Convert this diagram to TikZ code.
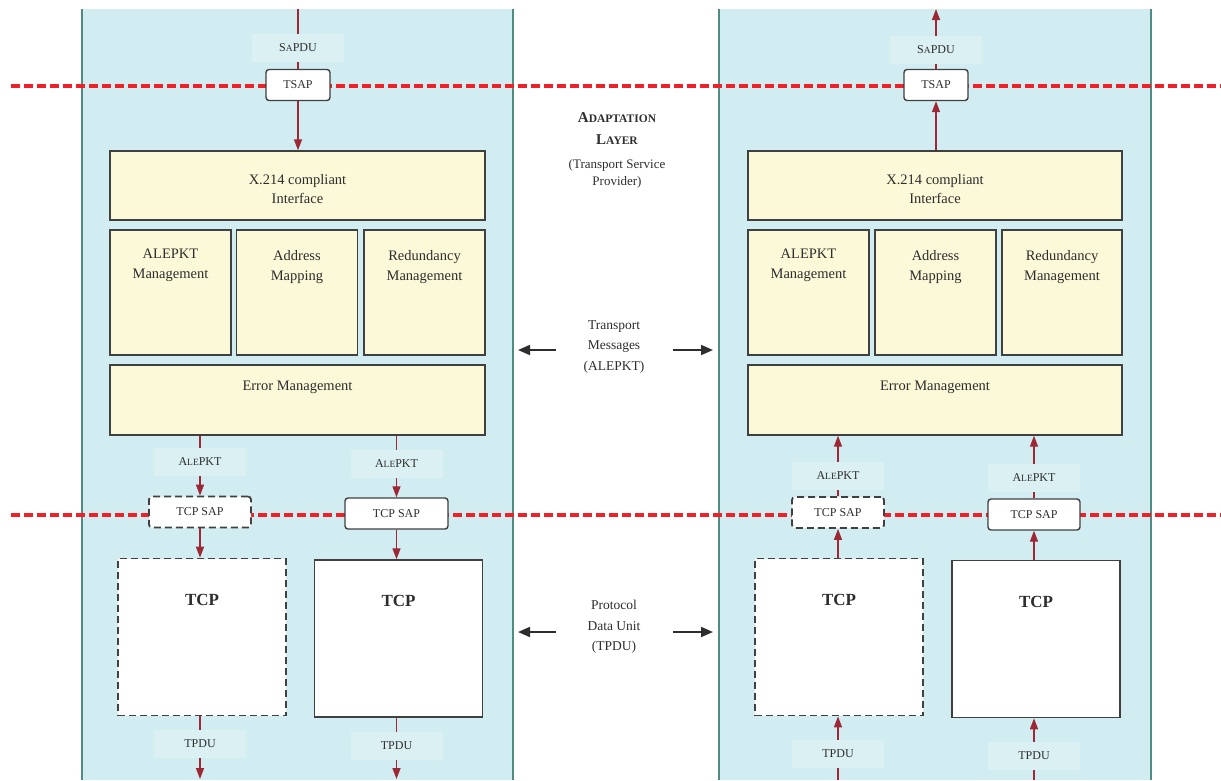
\documentclass[tikz,border=0pt]{standalone}
\usepackage{fontspec}
\setmainfont{Liberation Serif}
\usetikzlibrary{arrows.meta,positioning}

\definecolor{panelbg}{RGB}{210,237,241}
\definecolor{labelbg}{RGB}{218,240,243}
\definecolor{panelrule}{RGB}{80,140,132}
\definecolor{boxfill}{RGB}{252,249,216}
\definecolor{boxrule}{RGB}{64,64,64}
\definecolor{sapred}{RGB}{238,32,40}
\definecolor{flowred}{RGB}{155,40,52}
\definecolor{inkgrey}{RGB}{45,45,45}

\newcommand{\smcap}[1]{{\fontsize{9.5}{10}\selectfont #1}}

\tikzset{
  panel/.style={fill=panelbg},
  panelside/.style={draw=panelrule, line width=1.6pt},
  sapline/.style={draw=sapred, line width=3.2pt, dash pattern=on 9pt off 4pt},
  ybox/.style={draw=boxrule, fill=boxfill, line width=1.4pt, inner sep=0pt},
  ytext/.style={align=center, text=inkgrey, font=\fontsize{14.5}{19.5}\selectfont},
  sapbox/.style={draw=boxrule, fill=white, rounded corners=3pt, line width=1.4pt,
    minimum height=31pt, text=inkgrey, font=\fontsize{12}{12}\selectfont},
  tcpbox/.style={draw=boxrule, fill=white, line width=1.5pt, minimum width=168pt, minimum height=157pt},
  dashy/.style={dash pattern=on 7pt off 4pt, line width=1.8pt},
  tcplbl/.style={text=inkgrey, font=\fontsize{17}{17}\selectfont\bfseries},
  pdulbl/.style={fill=labelbg, minimum width=92pt, minimum height=28pt, inner sep=0pt,
    text=inkgrey, font=\fontsize{12}{12}\selectfont},
  flow/.style={draw=flowred, line width=1.4pt},
  flowtip/.style={flow, -{Triangle[length=11pt,width=8pt]}},
  midtext/.style={align=center, text=inkgrey, font=\fontsize{13.5}{20.5}\selectfont},
  side/.style={draw=inkgrey, line width=1.8pt, -{Triangle[length=12pt,width=10pt]}}
}

\begin{document}
\begin{tikzpicture}[x=1pt,y=-1pt]
\useasboundingbox (0,0) rectangle (1221,780);

\fill[panel] (82,9) rectangle (513,780);
\fill[panel] (719,9) rectangle (1151,780);
\draw[panelside] (82,9) -- (82,780);
\draw[panelside] (513,9) -- (513,780);
\draw[panelside] (719,9) -- (719,780);
\draw[panelside] (1151,9) -- (1151,780);

\draw[sapline] (11,86) -- (1221,86);
\draw[sapline] (11,515) -- (1221,515);

\node[ybox, minimum width=375pt, minimum height=69pt] (ifA) at (297.5,185.5) {};
\node[ytext] at (297.5,189) {X.214 compliant\\Interface};
\node[ybox, minimum width=121pt, minimum height=125pt] (pktA) at (170.5,292.5) {};
\node[ybox, minimum width=121pt, minimum height=125pt] (mapA) at (297,292.5) {};
\node[ybox, minimum width=121pt, minimum height=125pt] (redA) at (424.5,292.5) {};
\node[ytext] at (170.5,265.5) {ALEPKT\\Management};
\node[ytext] at (297,267) {Address\\Mapping};
\node[ytext] at (424.5,267) {Redundancy\\Management};
\node[ybox, minimum width=375pt, minimum height=70pt] (errA) at (297.5,400) {};
\node[ytext] at (297.5,387) {Error Management};

\node[ybox, minimum width=374pt, minimum height=69pt] (ifB) at (935,185.5) {};
\node[ytext] at (935,189) {X.214 compliant\\Interface};
\node[ybox, minimum width=121pt, minimum height=125pt] (pktB) at (808.5,292.5) {};
\node[ybox, minimum width=121pt, minimum height=125pt] (mapB) at (935.5,292.5) {};
\node[ybox, minimum width=120pt, minimum height=125pt] (redB) at (1062,292.5) {};
\node[ytext] at (808.5,265.5) {ALEPKT\\Management};
\node[ytext] at (935.5,267) {Address\\Mapping};
\node[ytext] at (1062,267) {Redundancy\\Management};
\node[ybox, minimum width=374pt, minimum height=70pt] (errB) at (935,400) {};
\node[ytext] at (935,387) {Error Management};

\node[sapbox, minimum width=64pt] (tsapA) at (298,85) {TSAP};
\node[sapbox, minimum width=64pt] (tsapB) at (936,85) {TSAP};
\node[sapbox, dashy, minimum width=102pt] (csapA) at (200,512) {TCP SAP};
\node[sapbox, minimum width=103pt] (csapA2) at (396.5,513.5) {TCP SAP};
\node[sapbox, dashy, minimum width=92pt] (csapB) at (838,512.5) {TCP SAP};
\node[sapbox, minimum width=92pt] (csapB2) at (1034,514.5) {TCP SAP};

\node[tcpbox, dashy] (tcpA) at (202,637) {};
\node[tcpbox] (tcpA2) at (398.5,638.5) {};
\node[tcpbox, dashy] (tcpB) at (839,637) {};
\node[tcpbox] (tcpB2) at (1036,639) {};
\node[tcplbl] at ([yshift=-42pt]tcpA.north) {TCP};
\node[tcplbl] at ([yshift=-42pt]tcpA2.north) {TCP};
\node[tcplbl] at ([yshift=-42pt]tcpB.north) {TCP};
\node[tcplbl] at ([yshift=-42pt]tcpB2.north) {TCP};

\node[pdulbl] (sapduA) at (298,48) {S\smcap{A}PDU};
\node[pdulbl] (sapduB) at (936,50) {S\smcap{A}PDU};
\node[pdulbl] (aleA) at (200,462) {A\smcap{LE}PKT};
\node[pdulbl] (aleA2) at (396.5,464) {A\smcap{LE}PKT};
\node[pdulbl] (aleB) at (838,476) {A\smcap{LE}PKT};
\node[pdulbl] (aleB2) at (1034,478) {A\smcap{LE}PKT};
\node[pdulbl] (tpduA) at (200,744) {TPDU};
\node[pdulbl] (tpduA2) at (396.5,746) {TPDU};
\node[pdulbl] (tpduB) at (838,754) {TPDU};
\node[pdulbl] (tpduB2) at (1034,756) {TPDU};

\coordinate (inA) at (298,9);
\coordinate (outB) at (936,9);
\coordinate (downA) at (200,779);
\coordinate (downA2) at (396.5,779);
\coordinate (upB) at (838,780);
\coordinate (upB2) at (1034,780);

\draw[flow] (inA) -- (sapduA.north);
\draw[flow] (sapduA.south) -- (tsapA.north);
\draw[flowtip] (tsapA.south) -- (ifA.north -| tsapA);
\draw[flow] (errA.south -| aleA) -- (aleA.north);
\draw[flow] (errA.south -| aleA2) -- (aleA2.north);
\draw[flowtip] (aleA.south) -- (csapA.north);
\draw[flowtip] (aleA2.south) -- (csapA2.north);
\draw[flowtip] (csapA.south) -- (csapA.south |- tcpA.north);
\draw[flowtip] (csapA2.south) -- (csapA2.south |- tcpA2.north);
\draw[flow] (tcpA.south -| tpduA) -- (tpduA.north);
\draw[flow] (tcpA2.south -| tpduA2) -- (tpduA2.north);
\draw[flowtip] (tpduA.south) -- (downA);
\draw[flowtip] (tpduA2.south) -- (downA2);

\draw[flowtip] (sapduB.north) -- (outB);
\draw[flow] (tsapB.north) -- (sapduB.south);
\draw[flowtip] (ifB.north -| tsapB) -- (tsapB.south);
\draw[flowtip] (aleB.north) -- (errB.south -| aleB);
\draw[flowtip] (aleB2.north) -- (errB.south -| aleB2);
\draw[flow] (csapB.north) -- (aleB.south);
\draw[flow] (csapB2.north) -- (aleB2.south);
\draw[flowtip] (csapB.south |- tcpB.north) -- (csapB.south);
\draw[flowtip] (csapB2.south |- tcpB2.north) -- (csapB2.south);
\draw[flowtip] (tpduB.north) -- (tcpB.south -| tpduB);
\draw[flowtip] (tpduB2.north) -- (tcpB2.south -| tpduB2);
\draw[flow] (upB) -- (tpduB.south);
\draw[flow] (upB2) -- (tpduB2.south);

\node[midtext, font=\fontsize{15}{22}\selectfont\bfseries] (title) at (617,129)
  {A{\fontsize{11.5}{11.5}\selectfont DAPTATION}\\L{\fontsize{11.5}{11.5}\selectfont AYER}};
\node[midtext, font=\fontsize{13}{17}\selectfont] (provider) at (617,174) {(Transport Service\\Provider)};
\node[midtext] (msgs) at (614,347) {Transport\\Messages\\(ALEPKT)};
\node[midtext] (pdu) at (614,627) {Protocol\\Data Unit\\(TPDU)};

\coordinate (msgL) at (556,350);
\coordinate (msgR) at (673,350);
\coordinate (pduL) at (556,632);
\coordinate (pduR) at (673,632);
\draw[side] (msgL) -- (518,350);
\draw[side] (msgR) -- (713,350);
\draw[side] (pduL) -- (518,632);
\draw[side] (pduR) -- (713,632);
\end{tikzpicture}
\end{document}
